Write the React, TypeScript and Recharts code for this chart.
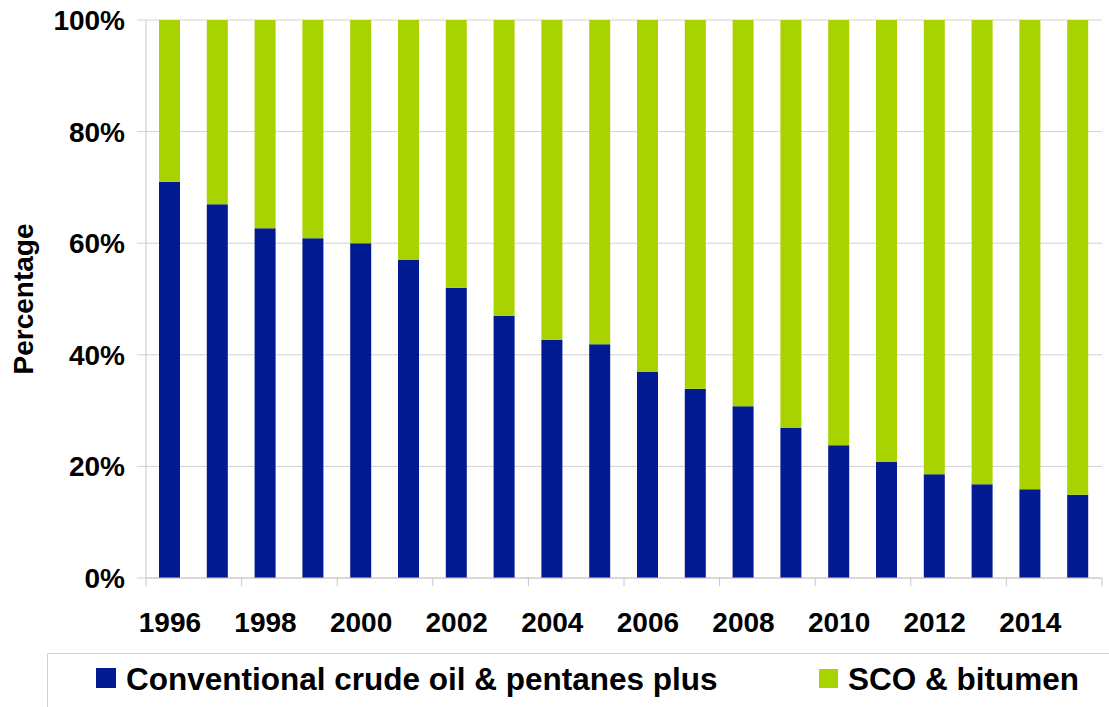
import { BarChart, Bar, XAxis, YAxis, CartesianGrid, Legend, Label } from 'recharts';

const years = ['1996', '1997', '1998', '1999', '2000', '2001', '2002', '2003', '2004', '2005',
  '2006', '2007', '2008', '2009', '2010', '2011', '2012', '2013', '2014', '2015'];
const conventional = [71.0, 67.0, 62.7, 60.9, 60.0, 57.0, 52.0, 47.0, 42.7, 41.9,
  36.9, 33.9, 30.8, 26.9, 23.8, 20.8, 18.6, 16.8, 15.9, 14.9];
const scoBitumen = [29.0, 33.0, 37.3, 39.1, 40.0, 43.0, 48.0, 53.0, 57.3, 58.1,
  63.1, 66.1, 69.2, 73.1, 76.2, 79.2, 81.4, 83.2, 84.1, 85.1];
const yTicks = [0, 20, 40, 60, 80, 100];

const BLUE = '#021a92';
const GREEN = '#a9d300';
const AXIS = '#c8c8c4';
const GRID = '#d2d2d2';
const FONT = '"Liberation Sans", Arial, sans-serif';

const W = 1109;
const H = 707;
const M = { top: 20, right: 7, bottom: 69, left: 0 };
const Y_W = 146;
const X_H = 60;
const BAND = (W - M.left - Y_W - M.right) / years.length;

const data = years.map((y, i) => ({ year: y, conv: conventional[i], sco: scoBitumen[i] }));

function XTick(props: any) {
  const { x, y, payload } = props;
  const idx = props.index ?? payload.index;
  return (
    <g>
      {idx % 2 === 0 && (
        <>
          <line x1={x - BAND / 2} x2={x - BAND / 2} y1={y} y2={y + 8} stroke={AXIS} />
          <text x={x} y={y + 54} textAnchor="middle" fontSize={28} fontWeight="bold"
            fontFamily={FONT} fill="#000">{payload.value}</text>
        </>
      )}
      {idx === years.length - 1 && (
        <line x1={x + BAND / 2} x2={x + BAND / 2} y1={y} y2={y + 8} stroke={AXIS} />
      )}
    </g>
  );
}

function LegendBox() {
  return (
    <svg width={W - 47} height={H - 653} style={{ display: 'block' }}>
      <line x1={0} x2={W} y1={0.5} y2={0.5} stroke={GRID} />
      <line x1={0.5} x2={0.5} y1={0} y2={H} stroke={GRID} />
      <rect x={49} y={15} width={20} height={20} fill={BLUE} />
      <text x={79} y={37} fontSize={31.5} fontWeight="bold" fontFamily={FONT} fill="#000">
        Conventional crude oil &amp; pentanes plus
      </text>
      <rect x={772} y={16} width={19} height={19} fill={GREEN} />
      <text x={801} y={37} fontSize={31.5} fontWeight="bold" fontFamily={FONT} fill="#000">
        SCO &amp; bitumen
      </text>
    </svg>
  );
}

export default function App() {
  return (
    <div style={{ position: 'absolute', left: 0, top: 0, width: W, height: H, background: '#fff', overflow: 'hidden' }}>
      <BarChart width={W} height={H} data={data} margin={M}>
        <CartesianGrid yAxisId="l" vertical={false} stroke={GRID} />
        <XAxis dataKey="year" height={X_H} interval={0} tickSize={0} tickMargin={0}
          tickLine={false} axisLine={{ stroke: AXIS }} tick={<XTick />} />
        <YAxis yAxisId="l" width={Y_W} domain={[0, 100]} ticks={yTicks} tickSize={9} tickMargin={12}
          tickFormatter={(v) => v + '%'} axisLine={{ stroke: AXIS }} tickLine={{ stroke: GRID }}
          tick={{ fontSize: 28, fontWeight: 'bold', fontFamily: FONT, fill: '#000' }}>
          <Label content={() => (
            <text x={33} y={299} transform="rotate(-90, 33, 299)" textAnchor="middle" fontSize={28}
              fontWeight="bold" fontFamily={FONT} fill="#000">Percentage</text>
          )} />
        </YAxis>
        <YAxis yAxisId="r" orientation="right" width={0} domain={[0, 100]} tick={false} tickLine={false}
          axisLine={{ stroke: AXIS }} />
        <Bar yAxisId="l" dataKey="conv" stackId="a" fill={BLUE} barSize={21} isAnimationActive={false} />
        <Bar yAxisId="l" dataKey="sco" stackId="a" fill={GREEN} barSize={21} isAnimationActive={false} />
        <Legend layout="horizontal" verticalAlign="middle" align="center" content={() => <LegendBox />}
          wrapperStyle={{ position: 'absolute', left: 47, top: 653, width: W - 47, height: H - 653, margin: 0, padding: 0 }} />
      </BarChart>
    </div>
  );
}
